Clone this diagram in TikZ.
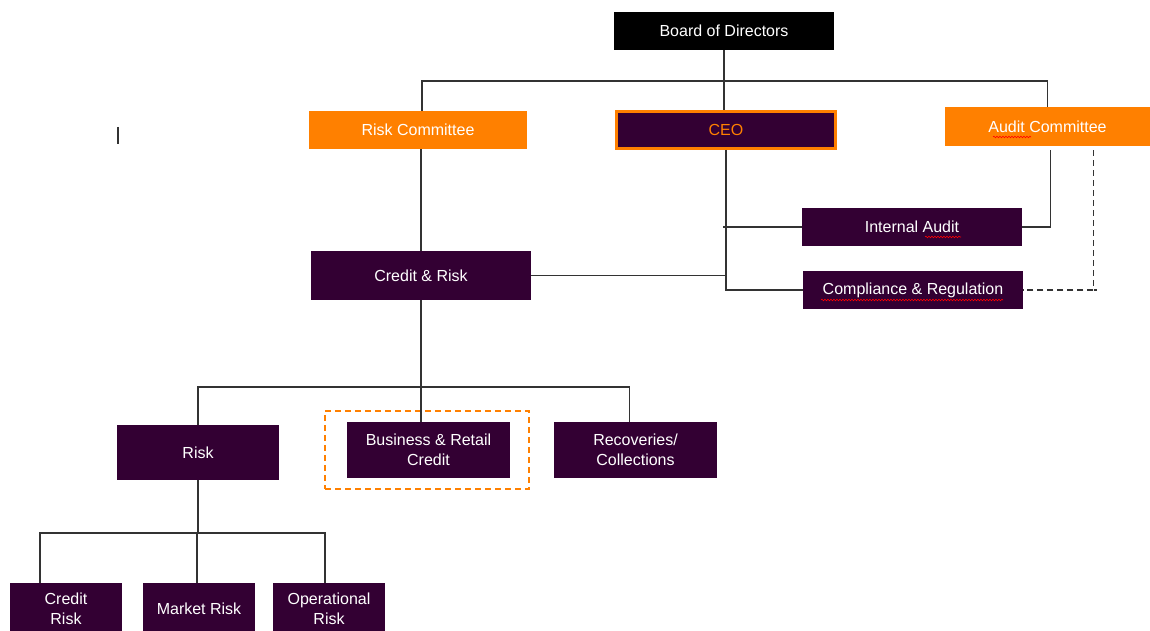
\documentclass[tikz,border=0pt]{standalone}
\usepackage{fontspec}
\setmainfont{Liberation Sans}
\usetikzlibrary{decorations.pathmorphing}
\definecolor{plum}{HTML}{330033}
\definecolor{orng}{HTML}{FF8000}
\definecolor{ln}{HTML}{333333}
\tikzset{
  box/.style={fill=plum, text=white, inner sep=0pt, align=center, font=\fontsize{16}{19.5}\selectfont},
  obox/.style={fill=orng, text=white, inner sep=0pt, align=center, font=\fontsize{16}{19.5}\selectfont},
  conn/.style={draw=ln, line width=1.1pt},
  dashbox/.style={draw=orng, line width=1.4pt, dash pattern=on 6pt off 4pt},
  squig/.style={draw=red, line width=0.6pt, decorate, decoration={snake, segment length=3pt, amplitude=0.8pt}}
}
\begin{document}
\begin{tikzpicture}[x=1pt,y=-1pt]
\useasboundingbox (0,0) rectangle (1150,631);
% nodes
\node[box, fill=black, minimum width=220, minimum height=38] (board) at (724,31) {Board of Directors};
\node[obox, minimum width=218, minimum height=38] (riskc) at (418,130) {Risk Committee};
\node[box, draw=orng, line width=3pt, text=orng, minimum width=219, minimum height=37] (ceo) at (726,130) {CEO};
\node[obox, minimum width=205, minimum height=39] (auditc) at (1047.5,126.5) {Audit Committee};
\node[box, minimum width=220, minimum height=38] (ia) at (912,227) {Internal Audit};
\node[box, minimum width=220, minimum height=38] (comp) at (913,290) {Compliance \& Regulation};
\node[box, minimum width=220, minimum height=49] (cr) at (421,275.5) {Credit \& Risk};
\node[box, minimum width=162, minimum height=55] (risk) at (198,452.5) {Risk};
\node[dashbox, minimum width=204, minimum height=78] (dbox) at (427,450) {};
\node[box, minimum width=163, minimum height=56] (brc) at (428.5,450) {Business \& Retail\\Credit};
\node[box, minimum width=163, minimum height=56] (rec) at (635.5,450) {Recoveries/\\Collections};
\node[box, minimum width=112, minimum height=52] (crisk) at (66,609) {Credit\\Risk};
\node[box, minimum width=112, minimum height=52] (mrisk) at (199,609) {Market Risk};
\node[box, minimum width=112, minimum height=52] (orisk) at (329,609) {Operational\\Risk};
% bus coordinates
\coordinate (tb) at (0,81);
\coordinate (mb) at (0,387);
\coordinate (lb) at (0,533);
% connectors
\draw[conn] (board.south) -- (board.south |- ceo.north);
\draw[conn] ([xshift=4pt]riskc.north) -- ([xshift=4pt]riskc.north |- tb) -- (auditc.north |- tb) -- (auditc.north);
\draw[conn] (cr.north |- riskc.south) -- (cr.north);
\draw[conn] (ceo.south) -- (ceo.south |- comp.west) -- (comp.west);
\draw[conn] (ia.west) -- ([xshift=-3pt]ia.west -| ceo.south);
\draw[conn] (cr.east) -- (cr.east -| ceo.south);
\draw[conn] ([xshift=3pt,yshift=-4pt]auditc.south) |- (ia.east);
\draw[conn, dash pattern=on 6pt off 4pt] ([xshift=46pt,yshift=-4pt]auditc.south) |- (comp.east);
\draw[conn] ([xshift=46pt]auditc.south |- comp.east) -- ++(3,0);
\draw[conn] (cr.south) -- (cr.south |- brc.north);
\draw[conn] (risk.north) -- (risk.north |- mb) -- ([xshift=-6pt]rec.north |- mb) -- ([xshift=-6pt]rec.north);
\draw[conn] (risk.south) -- (risk.south |- lb);
\draw[conn] ([xshift=-26pt]crisk.north) -- ([xshift=-26pt]crisk.north |- lb) -- ([xshift=-4pt]orisk.north |- lb) -- ([xshift=-4pt]orisk.north);
\draw[conn] ([xshift=-2pt]mrisk.north |- lb) -- ([xshift=-2pt]mrisk.north);
% stray mark
\draw[ln, line width=1.5pt] (118,127) -- (118,144);
% spell-check squiggles
\draw[squig] (993,137) -- (1031,137);
\draw[squig] (925,237) -- (961,237);
\draw[squig] (821,300) -- (1003,300);
\end{tikzpicture}
\end{document}
